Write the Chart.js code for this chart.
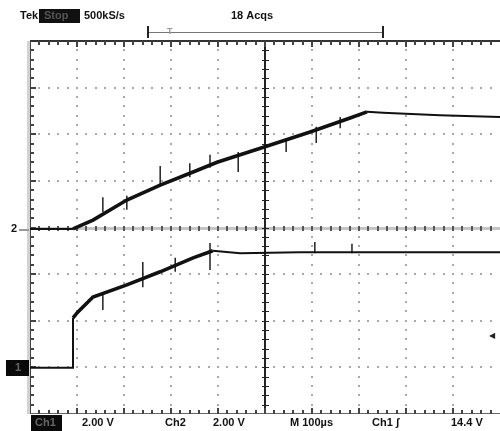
<!DOCTYPE html>
<html>
<head>
<meta charset="utf-8">
<script src="https://cdn.jsdelivr.net/npm/chart.js@4/dist/chart.umd.min.js"></script>
<style>
  body { margin: 0; background: #fff; }
  canvas { display: block; }
</style>
</head>
<body>
<canvas id="scope" width="500" height="431"></canvas>
<script>
// screen units: x = divisions (100 us/div), y = divisions from bottom (2 V/div)
const ch2Time = [0, 0.915, 1.34, 2.06, 2.77, 3.47, 3.98, 5.0, 5.96, 6.81, 7.17, 7.51, 8.72, 10];
const ch2Level = [3.97, 3.97, 4.16, 4.59, 4.91, 5.19, 5.40, 5.73, 6.05, 6.35, 6.48, 6.46, 6.41, 6.37];

const ch1Time = [0, 0.915, 0.915, 1.02, 1.34, 2.06, 2.77, 3.47, 3.89, 4.47, 5.74, 10];
const ch1Level = [0.99, 0.99, 2.06, 2.19, 2.51, 2.77, 3.05, 3.35, 3.50, 3.45, 3.47, 3.47];

// glitches riding on the traces: position, top, bottom
const ch2SpikeTime = [1.55, 2.06, 2.77, 3.40, 3.83, 4.43, 5.45, 6.09, 6.60];
const ch2SpikeTop = [4.65, 4.68, 5.32, 5.38, 5.56, 5.62, 5.92, 6.16, 6.37];
const ch2SpikeBottom = [4.33, 4.38, 4.93, 5.08, 5.28, 5.19, 5.62, 5.81, 6.13];

const ch1SpikeTime = [1.55, 2.40, 3.09, 3.83, 6.06, 6.85];
const ch1SpikeTop = [2.60, 3.26, 3.35, 3.67, 3.69, 3.65];
const ch1SpikeBottom = [2.23, 2.72, 3.05, 3.09, 3.45, 3.45];

const xDivs = 10;
const yDivs = 8;

function toPoints(xs, ys) {
  return xs.map((x, i) => ({ x, y: ys[i] }));
}

function toSpikes(xs, tops, bottoms) {
  const pts = [];
  xs.forEach((x, i) => {
    pts.push({ x, y: tops[i] });
    pts.push({ x, y: bottoms[i] });
    pts.push({ x, y: null });
  });
  return pts;
}

// ramps are drawn thick (noisy), flat parts thin
function rampWidth(ctx) {
  const dx = ctx.p1.parsed.x - ctx.p0.parsed.x;
  const dy = ctx.p1.parsed.y - ctx.p0.parsed.y;
  if (dx === 0) return 2;
  return Math.abs(dy / dx) > 0.1 ? 3.6 : 2;
}

const scopeGrid = {
  id: 'scopeGrid',
  beforeDatasetsDraw(chart) {
    const { ctx, chartArea: a } = chart;
    const xs = chart.scales.x;
    const ys = chart.scales.y;
    ctx.save();

    // dotted graticule
    ctx.fillStyle = '#a8a8a8';
    for (let i = 1; i < xDivs; i++) {
      if (i === 5) continue;
      const px = Math.round(xs.getPixelForValue(i));
      for (let j = 1; j < yDivs * 5; j++) {
        ctx.fillRect(px - 1, Math.round(ys.getPixelForValue(j / 5)) - 1, 2, 2);
      }
    }
    for (let j = 1; j < yDivs; j++) {
      if (j === 4) continue;
      const py = Math.round(ys.getPixelForValue(j));
      for (let i = 1; i < xDivs * 5; i++) {
        ctx.fillRect(Math.round(xs.getPixelForValue(i / 5)) - 1, py - 1, 2, 2);
      }
    }

    // centre cross with minor ticks
    const cx = Math.round(xs.getPixelForValue(5));
    const cy = Math.round(ys.getPixelForValue(4));
    ctx.fillStyle = '#c4c4c4';
    ctx.fillRect(a.left, cy - 1, a.right - a.left, 3);
    ctx.fillStyle = '#555';
    for (let i = 1; i < xDivs * 5; i++) {
      ctx.fillRect(Math.round(xs.getPixelForValue(i / 5)) - 1, cy - 2, 2, 5);
    }
    ctx.fillStyle = '#222';
    ctx.fillRect(cx - 1, a.top, 2, a.bottom - a.top);
    for (let j = 1; j < yDivs * 5; j++) {
      ctx.fillRect(cx - 3, Math.round(ys.getPixelForValue(j / 5)), 7, 1);
    }

    // frame
    ctx.fillStyle = '#333';
    ctx.fillRect(a.left, a.top - 1, a.right - a.left, 2);
    ctx.fillStyle = '#666';
    ctx.fillRect(a.left, a.bottom - 1, a.right - a.left, 1);
    ctx.fillStyle = '#d2d2d2';
    ctx.fillRect(a.left - 3, a.top, 3, a.bottom - a.top);
    ctx.fillStyle = '#444';
    ctx.fillRect(a.left, a.top, 1, a.bottom - a.top);
    for (let i = 1; i < xDivs * 5; i++) {
      const px = Math.round(xs.getPixelForValue(i / 5));
      const len = i % 5 === 0 ? 6 : 4;
      ctx.fillRect(px - 1, a.top, 2, len);
      ctx.fillRect(px - 1, a.bottom - len, 2, len);
    }
    for (let j = 1; j < yDivs * 5; j++) {
      const py = Math.round(ys.getPixelForValue(j / 5));
      ctx.fillRect(a.left, py - 1, j % 5 === 0 ? 6 : 4, 2);
    }
    ctx.restore();
  },
  afterDraw(chart) {
    const { ctx } = chart;
    const ys = chart.scales.y;
    ctx.save();
    ctx.textBaseline = 'middle';
    ctx.font = 'bold 11px "Liberation Sans", Arial, sans-serif';

    // header
    ctx.fillStyle = '#111';
    ctx.fillText('Tek', 20, 16);
    ctx.fillRect(39, 9, 41, 14);
    ctx.fillStyle = '#555';
    ctx.fillText('Stop', 44, 16);
    ctx.fillStyle = '#111';
    ctx.fillText('500kS/s', 84, 16);
    ctx.fillText('18 Acqs', 231, 16);

    // trigger position bracket
    ctx.fillStyle = '#777';
    ctx.fillRect(148, 32, 235, 1);
    ctx.fillStyle = '#222';
    ctx.fillRect(147, 26, 2, 12);
    ctx.fillRect(382, 26, 2, 12);
    ctx.fillStyle = '#999';
    ctx.font = 'bold 9px "Liberation Sans", Arial, sans-serif';
    ctx.fillText('T', 167, 32);

    // channel ground markers
    ctx.font = 'bold 11px "Liberation Sans", Arial, sans-serif';
    ctx.fillStyle = '#111';
    const g2 = ys.getPixelForValue(ch2Level[0]);
    ctx.fillText('2', 11, g2);
    ctx.fillStyle = '#999';
    ctx.fillRect(19, Math.round(g2), 10, 2);
    const g1 = ys.getPixelForValue(ch1Level[0]);
    ctx.fillStyle = '#0a0a0a';
    ctx.fillRect(6, Math.round(g1) - 8, 23, 16);
    ctx.fillStyle = '#666';
    ctx.fillText('1', 15, g1);

    // trigger level arrow
    ctx.fillStyle = '#222';
    ctx.font = '8px "DejaVu Sans", sans-serif';
    ctx.fillText('\u25C0', 489, 336);

    // footer
    ctx.font = 'bold 11px "Liberation Sans", Arial, sans-serif';
    const fy = 423;
    ctx.fillStyle = '#0a0a0a';
    ctx.fillRect(31, 415, 31, 16);
    ctx.fillStyle = '#666';
    ctx.fillText('Ch1', 35, fy);
    ctx.fillStyle = '#111';
    ctx.fillText('2.00 V', 82, fy);
    ctx.fillText('Ch2', 165, fy);
    ctx.fillText('2.00 V', 213, fy);
    ctx.fillText('M 100\u00B5s', 290, fy);
    ctx.fillText('Ch1 \u0283', 372, fy);
    ctx.fillText('14.4 V', 451, fy);
    ctx.restore();
  },
};

new Chart(document.getElementById('scope'), {
  type: 'scatter',
  data: {
    datasets: [
      {
        data: toPoints(ch2Time, ch2Level),
        showLine: true,
        borderColor: '#111',
        borderWidth: 2.6,
        segment: { borderWidth: rampWidth },
        pointRadius: 0,
      },
      {
        data: toPoints(ch1Time, ch1Level),
        showLine: true,
        borderColor: '#111',
        borderWidth: 2.6,
        segment: { borderWidth: rampWidth },
        pointRadius: 0,
      },
      {
        data: toSpikes(ch2SpikeTime, ch2SpikeTop, ch2SpikeBottom),
        showLine: true,
        spanGaps: false,
        borderColor: '#222',
        borderWidth: 1.5,
        pointRadius: 0,
      },
      {
        data: toSpikes(ch1SpikeTime, ch1SpikeTop, ch1SpikeBottom),
        showLine: true,
        spanGaps: false,
        borderColor: '#222',
        borderWidth: 1.5,
        pointRadius: 0,
      },
    ],
  },
  options: {
    responsive: false,
    devicePixelRatio: 1,
    animation: false,
    events: [],
    layout: {
      padding: { left: 30, right: 0, top: 41, bottom: 17 },
    },
    plugins: {
      legend: { display: false },
      tooltip: { enabled: false },
    },
    scales: {
      x: { type: 'linear', min: 0, max: xDivs, display: false },
      y: { type: 'linear', min: 0, max: yDivs, display: false },
    },
  },
  plugins: [scopeGrid],
});
</script>
</body>
</html>
